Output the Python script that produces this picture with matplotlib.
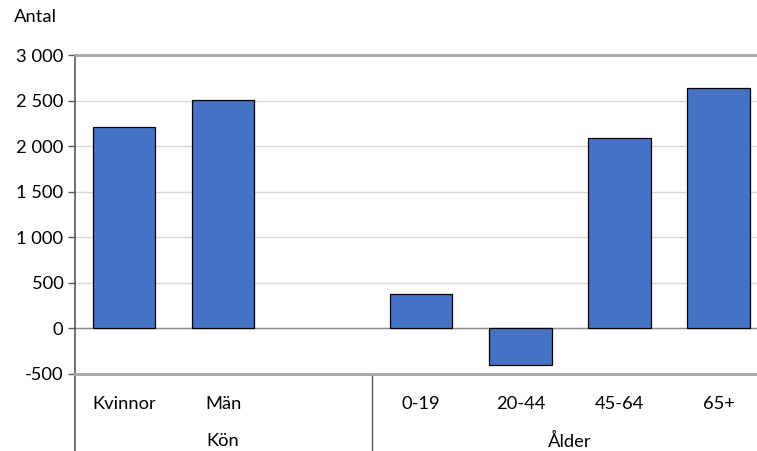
import numpy as np
import matplotlib
matplotlib.use("Agg")
import matplotlib.pyplot as plt
from matplotlib.ticker import FuncFormatter, MultipleLocator
import matplotlib.transforms as mtransforms

# ------------------------------------------------------------
# Data
# ------------------------------------------------------------
categories = ["Kvinnor", "Män", "", "0-19", "20-44", "45-64", "65+"]
values     = [2210, 2510, np.nan, 375, -405, 2085, 2635]
groups     = ["Kön", "Ålder"]
group_span = [(0, 2), (3, 6)]      # first/last category index in each group
y_label    = "Antal"

BAR_COLOR  = "#4472C4"
GRID_COLOR = "#D9D9D9"

plt.rcParams["font.family"] = ["Lato", "DejaVu Sans"]
plt.rcParams["font.size"] = 13.2

fig = plt.figure(figsize=(7.57, 4.51), dpi=100)
W, H = 757, 451
left, right, top, bottom = 74.5, 768, 55, 374
ax = fig.add_axes([left / W, 1 - bottom / H, (right - left) / W, (bottom - top) / H])

x = np.arange(len(categories))
vals = np.array(values, dtype=float)
mask = ~np.isnan(vals)
ax.bar(x[mask], vals[mask], width=0.63, color=BAR_COLOR,
       edgecolor="black", linewidth=0.9, zorder=3)

ax.set_xlim(-0.5, len(categories) - 0.5)
ax.set_ylim(-500, 3000)
ax.yaxis.set_major_locator(MultipleLocator(500))
ax.yaxis.set_major_formatter(FuncFormatter(lambda v, _: f"{int(v):,}".replace(",", " ")))
ax.grid(axis="y", color=GRID_COLOR, linewidth=1, zorder=0)
ax.axhline(0, color="#8C8C8C", linewidth=1, zorder=2)

ax.spines["right"].set_visible(False)
for s in ("top", "bottom"):
    ax.spines[s].set_color("#A6A6A6")
    ax.spines[s].set_linewidth(2)
ax.spines["left"].set_color("#595959")
ax.spines["left"].set_linewidth(1.2)

ax.tick_params(axis="y", length=5, width=1, color="#595959", pad=3,
               labelcolor="black")
ax.set_xticks(x)
ax.set_xticklabels(categories)
ax.tick_params(axis="x", length=0, pad=16, labelcolor="black")

fig.text(14 / W, 1 - 17 / H, y_label, ha="left", va="center")

# group labels and separators below the axis
trans = mtransforms.blended_transform_factory(ax.transData, ax.transAxes)
fig_bottom = -(H - bottom) / (bottom - top)   # axes coords of figure bottom
for g, (a, b) in zip(groups, group_span):
    ax.text((a + b) / 2, -(441 - bottom) / (bottom - top), g,
            transform=trans, ha="center", va="center")
ax.plot([-0.5, -0.5], [0, fig_bottom], transform=trans, color="#595959",
        linewidth=1.2, clip_on=False)
for a, b in group_span[1:]:
    ax.plot([a - 0.5, a - 0.5], [0, fig_bottom], transform=trans,
            color="#595959", linewidth=1, clip_on=False)

fig.savefig("out.png", dpi=100)
